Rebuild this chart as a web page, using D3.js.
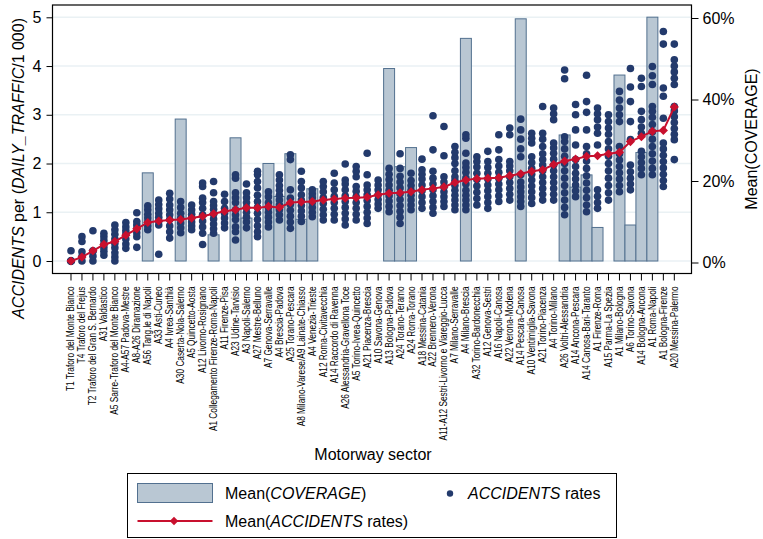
<!DOCTYPE html>
<html>
<head>
<meta charset="utf-8">
<script src="https://cdn.jsdelivr.net/npm/d3@7"></script>
<style>
  body { margin: 0; background: #fff; }
  svg { font-family: "Liberation Sans", Arial, sans-serif; }
  .axis path, .axis line { stroke: #000; }
</style>
</head>
<body>
<svg id="chart"></svg>
<script>
const width = 763;
const height = 539;

const sectors = [
  "T1 Traforo del Monte Bianco", "T4 Traforo del Frejus", "T2 Traforo del Gran S. Bernardo",
  "A31 Valdastico", "A5 Sarre-Traforo del Monte Bianco", "A4-A57 Padova-Mestre",
  "A8-A26 Diramazione", "A56 Tang.le di Napoli", "A33 Asti-Cuneo", "A4 Ivrea-Santhià",
  "A30 Caserta-Nola-Salerno", "A5 Quincetto-Aosta", "A12 Livorno-Rosignano",
  "A1 Collegamento Firenze-Roma-Napoli", "A11 Firenze-Pisa", "A23 Udine-Tarvisio",
  "A3 Napoli-Salerno", "A27 Mestre-Belluno", "A7 Genova-Serravalle", "A4 Brescia-Padova",
  "A25 Torano-Pescara", "A8 Milano-Varese/A9 Lainate-Chiasso", "A4 Venezia-Trieste",
  "A12 Roma-Civitavecchia", "A14 Raccordo di Ravenna", "A26 Alessandria-Gravellona Toce",
  "A5 Torino-Ivrea-Quincetto", "A21 Piacenza-Brescia", "A10 Savona-Genova",
  "A13 Bologna-Padova", "A24 Torano-Teramo", "A24 Roma-Torano", "A18 Messina-Catania",
  "A22 Brennero-Verona", "A11-A12 Sestri-Livorno e Viareggio-Lucca", "A7 Milano-Serravalle",
  "A4 Milano-Brescia", "A32 Torino-Bardonecchia", "A12 Genova-Sestri", "A16 Napoli-Canosa",
  "A22 Verona-Modena", "A14 Pescara-Canosa", "A10 Ventimiglia-Savona", "A21 Torino-Piacenza",
  "A4 Torino-Milano", "A26 Voltri-Alessandria", "A14 Ancona-Pescara",
  "A14 Canosa-Bari-Taranto", "A1 Firenze-Roma", "A15 Parma-La Spezia", "A1 Milano-Bologna",
  "A6 Torino-Savona", "A14 Bologna-Ancona", "A1 Roma-Napoli", "A1 Bologna-Firenze",
  "A20 Messina-Palermo"
];

// Mean(COVERAGE), percent (0 = no bar)
const coverage = [
  0, 0, 0, 0, 0, 0, 0, 22.0, 0, 0,
  35.2, 0, 0, 6.8, 0, 30.6, 10.9, 0, 24.3, 16.2,
  26.7, 10.6, 18.1, 0, 0, 0, 0, 0, 0, 47.6,
  23.5, 28.2, 0, 0, 0, 0, 55.0, 0, 0, 0,
  0, 59.8, 0, 0, 0, 31.3, 18.5, 21.5, 8.6, 0,
  46.0, 9.2, 27.0, 60.2, 0, 0
];

// Mean(ACCIDENTS rates)
const meanRates = [
  0.00, 0.08, 0.21, 0.34, 0.40, 0.53, 0.66, 0.79, 0.82, 0.84,
  0.85, 0.88, 0.92, 0.97, 1.02, 1.05, 1.09, 1.09, 1.12, 1.10,
  1.20, 1.21, 1.22, 1.25, 1.27, 1.29, 1.30, 1.31, 1.36, 1.39,
  1.40, 1.42, 1.46, 1.49, 1.52, 1.61, 1.66, 1.69, 1.70, 1.71,
  1.75, 1.79, 1.84, 1.87, 1.98, 2.05, 2.09, 2.15, 2.16, 2.20,
  2.23, 2.45, 2.55, 2.66, 2.68, 3.16
];

// ACCIDENTS rates, one list per sector
const rates = [
  [0, 0, 0, 0, 0, 0.21],
  [0, 0.09, 0.19, 0.40, 0.50],
  [0, 0.1, 0.2, 0.21, 0.62],
  [0.12, 0.2, 0.27, 0.34, 0.42, 0.5, 0.57],
  [0, 0.08, 0.17, 0.27, 0.36, 0.45, 0.55, 0.64, 0.74],
  [0.26, 0.35, 0.45, 0.55, 0.62, 0.7, 0.79],
  [0.28, 0.5, 0.58, 0.66, 0.74, 0.81, 0.99],
  [0.64, 0.72, 0.8, 0.88, 0.96, 1.05, 1.13],
  [0.14, 0.74, 0.82, 0.9, 0.98, 1.07, 1.16, 1.25],
  [0.47, 0.6, 0.72, 0.85, 0.95, 1.05, 1.15, 1.27, 1.39],
  [0.58, 0.68, 0.78, 0.88, 0.98, 1.1, 1.22],
  [0.64, 0.72, 0.8, 0.88, 0.96, 1.05, 1.15],
  [0.34, 0.57, 0.7, 0.82, 0.95, 1.08, 1.2, 1.29, 1.53, 1.60],
  [0.57, 0.66, 0.76, 0.86, 0.96, 1.06, 1.14, 1.22, 1.40, 1.63],
  [0.68, 0.78, 0.88, 0.98, 1.08, 1.22, 1.37],
  [0.43, 0.6, 0.7, 0.85, 0.95, 1.05, 1.2, 1.3, 1.4, 1.7, 1.77],
  [0.68, 0.8, 0.9, 1.0, 1.1, 1.2, 1.3, 1.4, 1.58],
  [0.5, 0.6, 0.72, 0.85, 0.98, 1.1, 1.22, 1.35, 1.5, 1.63, 1.77, 1.84],
  [0.7, 0.8, 0.9, 1.0, 1.1, 1.2, 1.32, 1.42],
  [0.84, 0.95, 1.05, 1.15, 1.25, 1.35, 1.45, 1.55, 1.66, 1.77],
  [0.67, 0.8, 0.92, 1.04, 1.16, 1.29, 1.46, 2.08, 2.18],
  [0.81, 0.92, 1.03, 1.14, 1.25, 1.36, 1.5, 1.63, 1.84],
  [0.91, 1.0, 1.1, 1.2, 1.3, 1.38, 1.46],
  [0.84, 0.95, 1.06, 1.18, 1.3, 1.42, 1.53, 1.63],
  [0.84, 0.96, 1.08, 1.2, 1.33, 1.46, 1.6, 1.8],
  [0.74, 0.86, 0.98, 1.1, 1.22, 1.34, 1.46, 1.58, 1.66, 1.99],
  [0.84, 0.96, 1.08, 1.2, 1.32, 1.43, 1.53, 1.73, 1.84, 1.94],
  [0.77, 0.88, 1.0, 1.12, 1.24, 1.36, 1.46, 1.56, 1.77, 2.21],
  [1.08, 1.17, 1.26, 1.36, 1.46, 1.56, 1.66],
  [1.01, 1.12, 1.23, 1.34, 1.45, 1.56, 1.67, 1.78, 1.9],
  [0.77, 0.9, 1.02, 1.14, 1.26, 1.38, 1.5, 1.62, 1.74, 1.9, 2.2],
  [1.05, 1.15, 1.25, 1.35, 1.45, 1.55, 1.65, 1.8],
  [1.08, 1.2, 1.32, 1.44, 1.56, 1.68, 1.78, 1.87, 2.09],
  [0.98, 1.1, 1.22, 1.34, 1.46, 1.58, 1.7, 1.84, 2.28, 2.98],
  [1.12, 1.22, 1.32, 1.42, 1.52, 1.62, 1.73, 2.16, 2.76],
  [1.05, 1.15, 1.25, 1.35, 1.45, 1.55, 1.65, 1.73, 1.85, 2.0, 2.12, 2.23, 2.35],
  [1.05, 1.15, 1.25, 1.35, 1.45, 1.58, 1.7, 1.82, 1.92, 2.01, 2.21, 2.52, 2.59],
  [1.15, 1.28, 1.41, 1.54, 1.67, 1.8, 1.93, 2.04, 2.14],
  [1.08, 1.2, 1.32, 1.44, 1.56, 1.68, 1.8, 1.92, 2.04, 2.25],
  [1.22, 1.34, 1.46, 1.58, 1.7, 1.82, 1.95, 2.08, 2.28, 2.59],
  [1.25, 1.37, 1.49, 1.61, 1.73, 1.85, 1.95, 2.04, 2.59, 2.73],
  [1.12, 1.22, 1.32, 1.42, 1.52, 1.62, 1.77, 2.14, 2.3, 2.5, 2.69, 2.91],
  [1.18, 1.3, 1.42, 1.54, 1.66, 1.78, 1.9, 2.02, 2.14, 2.42, 2.52, 2.62],
  [1.25, 1.37, 1.49, 1.61, 1.73, 1.85, 1.97, 2.08, 2.2, 2.35, 2.5, 2.62, 3.17],
  [1.25, 1.37, 1.49, 1.61, 1.73, 1.85, 1.97, 2.09, 2.21, 2.32, 2.42, 2.9, 3.02, 3.14],
  [0.95, 1.1, 1.25, 1.4, 1.55, 1.7, 1.85, 2.0, 2.15, 2.3, 2.45, 2.55, 3.74, 3.92],
  [1.32, 1.44, 1.56, 1.68, 1.8, 1.94, 2.08, 2.38, 2.69, 3.0, 3.21],
  [1.01, 1.15, 1.3, 1.45, 1.6, 1.75, 1.9, 2.05, 2.2, 2.35, 2.69, 3.05, 3.27, 3.81],
  [1.08, 1.2, 1.33, 1.46, 2.38, 2.62, 2.75, 2.9, 3.02, 3.14],
  [1.25, 1.4, 1.55, 1.7, 1.85, 2.0, 2.15, 2.3, 2.45, 2.6, 2.73, 2.86, 3.0],
  [1.42, 1.55, 1.68, 1.81, 1.94, 2.07, 2.2, 2.35, 2.86, 3.0, 3.14, 3.3, 3.48],
  [1.46, 1.58, 1.7, 1.83, 1.97, 2.49, 2.86, 3.27, 3.57, 3.95],
  [1.77, 1.9, 2.02, 2.14, 2.25, 2.62, 2.75, 2.9, 3.07, 3.58, 3.75],
  [1.77, 1.9, 2.05, 2.2, 2.35, 2.5, 2.65, 2.8, 2.95, 3.07, 3.17, 3.62, 3.8, 3.99],
  [1.53, 1.65, 1.78, 1.91, 2.04, 2.17, 2.3, 2.42, 2.93, 3.38, 3.55, 4.45, 4.71],
  [2.08, 2.49, 2.6, 2.72, 2.84, 2.96, 3.08, 3.17, 3.62, 3.75, 3.88, 4.0, 4.13, 4.45]
];

const leftTicks = [0, 1, 2, 3, 4, 5];
const rightTicks = [0, 20, 40, 60];

const navy = "#233a6c";
const red = "#c8102e";
const barFill = "#b9c7d3";
const barStroke = "#52708f";

const plot = {left: 52.5, right: 691.5, top: 5, bottom: 273.5};

const svg = d3.select("#chart")
    .attr("width", width)
    .attr("height", height);

const x = d3.scaleBand()
    .domain(sectors)
    .range([65.5, 679.8])
    .padding(0);
const cx = d => x(d) + x.bandwidth() / 2;

const y = d3.scaleLinear().domain([0, 5]).range([261, 17.3]);
const y2 = d3.scaleLinear().domain([0, 60]).range([262.5, 18]);

// gridlines
svg.append("g")
    .selectAll("line")
    .data(leftTicks)
    .join("line")
    .attr("x1", plot.left)
    .attr("x2", plot.right)
    .attr("y1", d => y(d))
    .attr("y2", d => y(d))
    .attr("stroke", "#eaf1f4")
    .attr("stroke-width", 1.5);

// coverage bars
svg.append("g")
    .selectAll("rect")
    .data(sectors.map((s, i) => ({s, v: coverage[i]})).filter(d => d.v > 0))
    .join("rect")
    .attr("x", d => x(d.s))
    .attr("width", x.bandwidth())
    .attr("y", d => y2(d.v))
    .attr("height", d => y(0) - y2(d.v))
    .attr("fill", barFill)
    .attr("stroke", barStroke)
    .attr("stroke-width", 1);

// accident rate dots
const dots = [];
sectors.forEach((s, i) => rates[i].forEach(v => dots.push({s, v})));
svg.append("g")
    .selectAll("circle")
    .data(dots)
    .join("circle")
    .attr("cx", d => cx(d.s))
    .attr("cy", d => y(d.v))
    .attr("r", 3.8)
    .attr("fill", navy);

// mean line with diamonds
const meanData = sectors.map((s, i) => ({s, v: meanRates[i]}));
svg.append("path")
    .datum(meanData)
    .attr("fill", "none")
    .attr("stroke", red)
    .attr("stroke-width", 2)
    .attr("d", d3.line().x(d => cx(d.s)).y(d => y(d.v)));

const diamond = d3.symbol(d3.symbolSquare, 42);
svg.append("g")
    .selectAll("path")
    .data(meanData)
    .join("path")
    .attr("transform", d => `translate(${cx(d.s)},${y(d.v)}) rotate(45)`)
    .attr("d", diamond)
    .attr("fill", red);

// frame
svg.append("rect")
    .attr("x", plot.left)
    .attr("y", plot.top)
    .attr("width", plot.right - plot.left)
    .attr("height", plot.bottom - plot.top)
    .attr("fill", "none")
    .attr("stroke", "#000")
    .attr("stroke-width", 1.2);

// left axis
svg.append("g")
    .attr("class", "axis")
    .attr("transform", `translate(${plot.left},0)`)
    .call(d3.axisLeft(y).tickValues(leftTicks).tickFormat(d3.format("d")).tickSize(6).tickPadding(5))
    .call(g => g.select(".domain").remove())
    .selectAll("text")
    .attr("font-size", 16)
    .attr("font-family", "Liberation Sans, Arial, sans-serif")
    .attr("fill", "#000");

// right axis
svg.append("g")
    .attr("class", "axis")
    .attr("transform", `translate(${plot.right},0)`)
    .call(d3.axisRight(y2).tickValues(rightTicks).tickFormat(d => d + "%").tickSize(7).tickPadding(4))
    .call(g => g.select(".domain").remove())
    .selectAll("text")
    .attr("font-size", 16)
    .attr("font-family", "Liberation Sans, Arial, sans-serif")
    .attr("fill", "#000");

// bottom axis
svg.append("g")
    .attr("class", "axis")
    .attr("transform", `translate(0,${plot.bottom})`)
    .call(d3.axisBottom(x).tickSize(7))
    .call(g => g.select(".domain").remove())
    .selectAll("text")
    .attr("x", 0)
    .attr("y", 0)
    .attr("dy", "0.35em")
    .attr("text-anchor", "end")
    .attr("transform", "translate(0,13) rotate(-90) scale(0.83,1)")
    .attr("font-size", 10)
    .attr("font-family", "Liberation Sans, Arial, sans-serif")
    .attr("fill", "#000");

// axis titles
const yTitle = svg.append("text")
    .attr("transform", "translate(24,18) rotate(-90)")
    .attr("text-anchor", "end")
    .attr("font-size", 16);
yTitle.append("tspan").attr("font-style", "italic").text("ACCIDENTS");
yTitle.append("tspan").text(" per (");
yTitle.append("tspan").attr("font-style", "italic").text("DAILY_TRAFFIC");
yTitle.append("tspan").text("/1 000)");

svg.append("text")
    .attr("transform", "translate(757,139) rotate(-90)")
    .attr("text-anchor", "middle")
    .attr("font-size", 16)
    .text("Mean(COVERAGE)");

svg.append("text")
    .attr("x", 373)
    .attr("y", 460)
    .attr("text-anchor", "middle")
    .attr("font-size", 16)
    .text("Motorway sector");

// legend
const legend = svg.append("g");
legend.append("rect")
    .attr("x", 127.5).attr("y", 473.5)
    .attr("width", 489).attr("height", 64)
    .attr("fill", "#fff").attr("stroke", "#000").attr("stroke-width", 1);

legend.append("rect")
    .attr("x", 137.5).attr("y", 483.5)
    .attr("width", 75).attr("height", 19)
    .attr("fill", barFill).attr("stroke", barStroke);
const l1 = legend.append("text").attr("x", 225).attr("y", 499).attr("font-size", 16);
l1.append("tspan").text("Mean(");
l1.append("tspan").attr("font-style", "italic").text("COVERAGE");
l1.append("tspan").text(")");

legend.append("circle")
    .attr("cx", 450).attr("cy", 493.5).attr("r", 3.2).attr("fill", navy);
const l2 = legend.append("text").attr("x", 468).attr("y", 499).attr("font-size", 16);
l2.append("tspan").attr("font-style", "italic").text("ACCIDENTS");
l2.append("tspan").text(" rates");

legend.append("line")
    .attr("x1", 137.5).attr("x2", 212.5)
    .attr("y1", 521).attr("y2", 521)
    .attr("stroke", red).attr("stroke-width", 2);
legend.append("path")
    .attr("transform", "translate(174,521) rotate(45)")
    .attr("d", d3.symbol(d3.symbolSquare, 36))
    .attr("fill", red);
const l3 = legend.append("text").attr("x", 225).attr("y", 527).attr("font-size", 16);
l3.append("tspan").text("Mean(");
l3.append("tspan").attr("font-style", "italic").text("ACCIDENTS");
l3.append("tspan").text(" rates)");
</script>
</body>
</html>
